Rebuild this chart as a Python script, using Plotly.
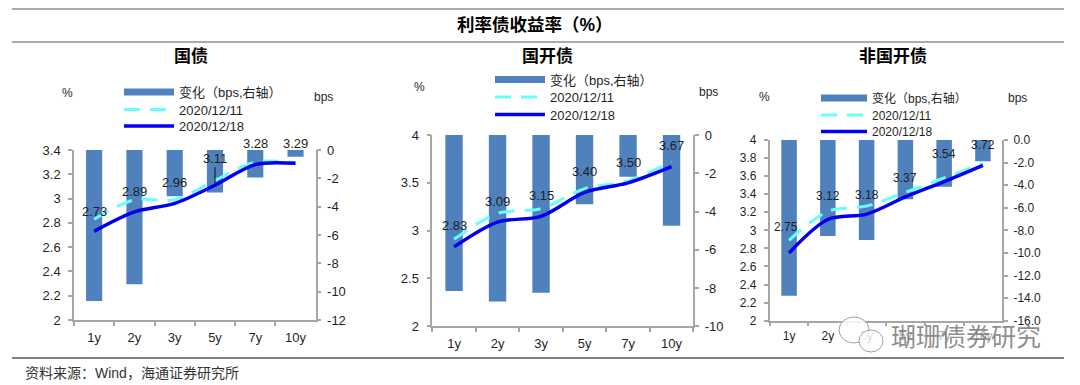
import plotly.graph_objects as go

W, H = 1080, 385
categories = ["1y", "2y", "3y", "5y", "7y", "10y"]
names = ["国债", "国开债", "非国开债"]
bar_name = "变化（bps,右轴）"
date_a, date_b = "2020/12/11", "2020/12/18"

change_gz = [-10.66, -9.48, -3.27, -3.0, -1.95, -0.47]
change_gk = [-8.15, -8.7, -8.24, -3.62, -2.18, -4.74]
change_fg = [-13.8, -8.5, -8.85, -5.25, -4.13, -1.89]
prev_gz = [2.83, 2.99, 2.99, 3.15, 3.30, 3.295]
prev_gk = [2.91, 3.18, 3.23, 3.44, 3.52, 3.72]
prev_fg = [2.89, 3.21, 3.27, 3.42, 3.58, 3.74]
curr_gz = [2.73, 2.89, 2.96, 3.11, 3.28, 3.29]
curr_gk = [2.83, 3.09, 3.15, 3.40, 3.50, 3.67]
curr_fg = [2.75, 3.12, 3.18, 3.37, 3.54, 3.72]
labels_gz = ["2.73", "2.89", "2.96", "3.11", "3.28", "3.29"]
labels_gk = ["2.83", "3.09", "3.15", "3.40", "3.50", "3.67"]
labels_fg = ["2.75", "3.12", "3.18", "3.37", "3.54", "3.72"]

left_ticks_gz = [2, 2.2, 2.4, 2.6, 2.8, 3, 3.2, 3.4]
left_text_gz = ["2", "2.2", "2.4", "2.6", "2.8", "3", "3.2", "3.4"]
right_ticks_gz = [-12, -10, -8, -6, -4, -2, 0]
right_text_gz = ["-12", "-10", "-8", "-6", "-4", "-2", "0"]
left_ticks_gk = [2, 2.5, 3, 3.5, 4]
left_text_gk = ["2", "2.5", "3", "3.5", "4"]
right_ticks_gk = [-10, -8, -6, -4, -2, 0]
right_text_gk = ["-10", "-8", "-6", "-4", "-2", "0"]
left_ticks_fg = [2, 2.2, 2.4, 2.6, 2.8, 3, 3.2, 3.4, 3.6, 3.8, 4]
left_text_fg = ["2", "2.2", "2.4", "2.6", "2.8", "3", "3.2", "3.4", "3.6", "3.8", "4"]
right_ticks_fg = [-16, -14, -12, -10, -8, -6, -4, -2, 0]
right_text_fg = ["-16.0", "-14.0", "-12.0", "-10.0", "-8.0", "-6.0", "-4.0", "-2.0", "0.0"]

BAR, CYAN, BLUE = "#4f81bd", "#66ffff", "#0000ee"
AXIS, TXT = "#a6a6a6", "#1f1f1f"
FONT = "Liberation Sans, Noto Sans CJK SC, sans-serif"

panels = [
    dict(name=names[0], bars=change_gz, prev=prev_gz, curr=curr_gz, labels=labels_gz,
         box=(74, 315.7, 150, 320), lrange=(2, 3.4), rrange=(-12, 0), fs=13, xstand=5,
         lt=left_ticks_gz, ltx=left_text_gz, rt=right_ticks_gz, rtx=right_text_gz,
         shift=[20, 20, 21, 27, 21, 20], xs=[0, 0, 0, 0, 0, 0],
         title_xy=(191, 56), pct=(67, 93), bps=(323, 97),
         leg_x=119, leg_w=50, leg_rows=(92, 109.5, 126)),
    dict(name=names[1], bars=change_gk, prev=prev_gk, curr=curr_gk, labels=labels_gk,
         box=(432.3, 693.3, 135, 326.3), lrange=(2, 4), rrange=(-10, 0), fs=13, xstand=4,
         lt=left_ticks_gk, ltx=left_text_gk, rt=right_ticks_gk, rtx=right_text_gk,
         shift=[21, 21, 21, 21, 20, 21], xs=[0, 0, 0, 0, 0, 0],
         title_xy=(547, 56), pct=(419, 87), bps=(708, 92),
         leg_x=490, leg_w=50, leg_rows=(79.5, 97, 114.5)),
    dict(name=names[2], bars=change_fg, prev=prev_fg, curr=curr_fg, labels=labels_fg,
         box=(769.7, 1002.3, 140, 320.7), lrange=(2, 4), rrange=(-16, 0), fs=12, xstand=3,
         lt=left_ticks_fg, ltx=left_text_fg, rt=right_ticks_fg, rtx=right_text_fg,
         shift=[26, 24, 19, 19, 28, 20], xs=[-3, 0, 0, 0, 0, 0],
         title_xy=(893, 56), pct=(764, 97), bps=(1018, 98),
         leg_x=816, leg_w=46, leg_rows=(98, 115, 131.5)),
]


def px(x):
    return x / W


def py(y):
    return 1 - y / H


def text_at(x, y, text, size, color=TXT, xanchor="center"):
    return dict(x=px(x), y=py(y), xref="paper", yref="paper", text=text, showarrow=False,
                xanchor=xanchor, yanchor="middle", font=dict(size=size, color=color, family=FONT))


fig = go.Figure()
ann = []
layout = {}
for i, p in enumerate(panels):
    n = 2 * i
    xname = "x" if i == 0 else f"x{i + 1}"
    y1 = "y" if i == 0 else f"y{n + 1}"
    y2 = f"y{n + 2}"
    x0, x1, top, bot = p["box"]
    fs = p["fs"]
    # one legend per row, because a single legend's rows cannot sit as close as the reference's
    legs = [("legend" if 3 * i + r == 0 else f"legend{3 * i + r + 1}") for r in range(3)]

    fig.add_trace(go.Bar(x=categories, y=p["bars"], xaxis=xname, yaxis=y1, width=0.4,
                         marker=dict(color=BAR, line=dict(width=0)), showlegend=False))
    # stand-in with no points: draws the wide flat bar swatch of the legend
    fig.add_trace(go.Scatter(x=[categories[0]], y=[None], xaxis=xname, yaxis=y2, name=bar_name,
                             mode="lines", line=dict(color=BAR, width=7), legend=legs[0]))
    fig.add_trace(go.Scatter(x=categories, y=p["prev"], xaxis=xname, yaxis=y2, name=date_a,
                             mode="lines", legend=legs[1],
                             line=dict(color=CYAN, width=3, dash="16px 10px", shape="spline", smoothing=0.9)))
    fig.add_trace(go.Scatter(x=categories, y=p["curr"], xaxis=xname, yaxis=y2, name=date_b,
                             mode="lines", legend=legs[2],
                             line=dict(color=BLUE, width=3.5, shape="spline", smoothing=0.9)))

    axis_common = dict(showgrid=False, zeroline=False, showline=True, linecolor=AXIS, linewidth=1.5,
                       ticks="outside", ticklen=4, tickcolor=AXIS, tickwidth=1.5,
                       tickfont=dict(size=fs, color=TXT, family=FONT))
    layout["xaxis" if i == 0 else f"xaxis{i + 1}"] = dict(
        axis_common, domain=[px(x0), px(x1)], anchor=y1, type="category",
        categoryorder="array", categoryarray=categories, tickson="boundaries", fixedrange=True,
        ticklabelstandoff=p["xstand"])
    layout["yaxis" if i == 0 else f"yaxis{n + 1}"] = dict(
        axis_common, domain=[py(bot), py(top)], anchor=xname, side="right", range=list(p["rrange"]),
        tickmode="array", tickvals=p["rt"], ticktext=p["rtx"], ticklabelstandoff=3)
    layout[f"yaxis{n + 2}"] = dict(
        axis_common, domain=[py(bot), py(top)], anchor=xname, overlaying=y1, side="left",
        range=list(p["lrange"]), tickmode="array", tickvals=p["lt"], ticktext=p["ltx"],
        ticklabelstandoff=5)
    for leg, row_y in zip(legs, p["leg_rows"]):
        layout[leg] = dict(x=px(p["leg_x"]), y=py(row_y), xanchor="left", yanchor="middle",
                           itemwidth=p["leg_w"], itemsizing="trace", bgcolor="rgba(0,0,0,0)",
                           font=dict(size=fs, color=TXT, family=FONT), borderwidth=0)

    for j, cat in enumerate(categories):
        a = dict(x=cat, y=p["curr"][j], xref=xname, yref=y2, text=p["labels"][j],
                 font=dict(size=fs, color=TXT, family=FONT), showarrow=False,
                 yshift=p["shift"][j], xshift=p["xs"][j])
        if p["name"] == names[0] and p["labels"][j] == "3.11":
            a.update(showarrow=True, arrowhead=0, arrowwidth=1, arrowcolor="#111111", ax=0, ay=-27, yshift=0)
        ann.append(a)

    ann.append(text_at(*p["title_xy"], f"<b>{p['name']}</b>", 17, "#000000"))
    ann.append(text_at(*p["pct"], "%", 12))
    ann.append(text_at(*p["bps"], "bps", 12))

ann.append(text_at(535, 25, "<b>利率债收益率（%）</b>", 17.5, "#000000"))
ann.append(text_at(23, 373, "资料来源：Wind，海通证券研究所", 14, "#333333", xanchor="left"))

rules = [(9, "#595959", 1.2), (42, "#595959", 1.2), (358, "#000000", 1.2)]
shapes = [dict(type="line", xref="paper", yref="paper", x0=px(12), x1=px(1064), y0=py(y), y1=py(y),
               line=dict(color=c, width=w)) for y, c, w in rules]
# chat-bubble mark and pale backing of the watermark
for cx, cy, rx, ry in [(854, 330, 15, 13), (871, 341, 12, 11)]:
    shapes.append(dict(type="circle", xref="paper", yref="paper", x0=px(cx - rx), x1=px(cx + rx),
                       y0=py(cy - ry), y1=py(cy + ry), fillcolor="rgba(255,255,255,0.85)",
                       line=dict(color="#a0a0a0", width=1)))
shapes.append(dict(type="rect", xref="paper", yref="paper", x0=px(888), x1=px(1045), y0=py(326), y1=py(349),
                   fillcolor="rgba(255,255,255,0.6)", line=dict(width=0)))
ann.append(text_at(966, 337, "瑚珊债券研究", 25, "rgba(120,120,120,0.85)"))

fig.update_layout(width=W, height=H, autosize=False,
                  margin=dict(l=0, r=0, t=0, b=0, autoexpand=False),
                  paper_bgcolor="white", plot_bgcolor="white", annotations=ann, shapes=shapes,
                  barmode="overlay", font=dict(family=FONT), **layout)
fig.write_html("out.html", config=dict(displayModeBar=False),
               post_script="document.body.style.margin='0';")
